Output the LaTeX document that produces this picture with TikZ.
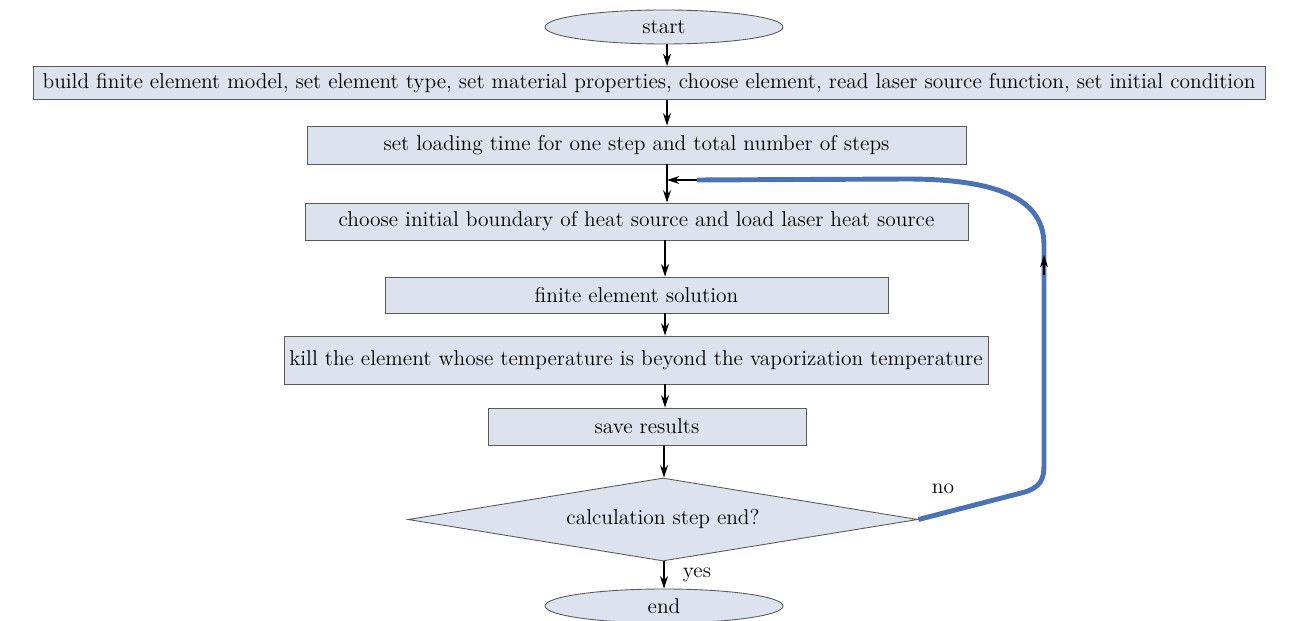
\documentclass[tikz,border=0pt]{standalone}
\usetikzlibrary{shapes.geometric,arrows.meta}
\definecolor{boxfill}{HTML}{DDE3EE}
\definecolor{boxdraw}{HTML}{5A5A5A}
\definecolor{loopblue}{HTML}{4A72B5}
\begin{document}
\begin{tikzpicture}[x=0.02cm,y=-0.02cm,
  every node/.style={font=\fontsize{12.2}{14}\selectfont},
  procbox/.style={draw=boxdraw,fill=boxfill,line width=0.5pt,rectangle,inner sep=0pt},
  termnode/.style={draw=boxdraw,fill=boxfill,line width=0.5pt,ellipse,inner sep=0pt,minimum width=238*0.02cm,minimum height=34*0.02cm},
  decnode/.style={draw=boxdraw,fill=boxfill,line width=0.5pt,diamond,aspect=6.1,inner sep=0pt,minimum width=510*0.02cm,minimum height=83*0.02cm},
  flow/.style={-{Stealth[length=7pt,width=4.5pt]},line width=0.7pt,black},
  plain/.style={font=\fontsize{12.2}{14}\selectfont}]
\useasboundingbox (0,0) rectangle (1290,621);
\node[termnode] (start) at (664,27) {start};
\node[procbox,minimum width=1232*0.02cm,minimum height=33*0.02cm] (b1) at (649,83) {build finite element model, set element type, set material properties, choose element, read laser source function, set initial condition};
\node[procbox,minimum width=659*0.02cm,minimum height=38*0.02cm] (b2) at (636.5,145) {set loading time for one step and total number of steps};
\node[procbox,minimum width=663*0.02cm,minimum height=37*0.02cm] (b3) at (636.5,221.5) {choose initial boundary of heat source and load laser heat source};
\node[procbox,minimum width=503*0.02cm,minimum height=36*0.02cm] (b4) at (636.5,295) {finite element solution};
\node[procbox,minimum width=704*0.02cm,minimum height=48*0.02cm] (b5) at (636,360) {kill the element whose temperature is beyond the vaporization temperature};
\node[procbox,minimum width=318*0.02cm,minimum height=37*0.02cm] (b6) at (647,426.5) {save results};
\node[decnode] (dec) at (663,519.5) {calculation step end?};
\node[termnode] (end) at (664,606) {end};
\node[plain] (no) at (943,489) {no};
\node[plain] (yes) at (697,575) {yes};
\coordinate (j) at (667,180);
\coordinate (lp1) at (697,180);
\coordinate (lp2) at (907,179);
\coordinate (lp3) at (1044,245);
\coordinate (lp4) at (1044,465);
\coordinate (lp5) at (1025,492);
\coordinate (tipA) at (1044,275);
\coordinate (tipB) at (1044,255);
\draw[flow] (start.south -| 667,0) -- (b1.north -| 667,0);
\draw[flow] (b1.south -| 667,0) -- (b2.north -| 667,0);
\draw[line width=0.7pt] (b2.south -| 667,0) -- (j);
\draw[flow] (j) -- (b3.north -| 667,0);
\draw[flow] (b3.south -| 665,0) -- (b4.north -| 665,0);
\draw[flow] (b4.south -| 665,0) -- (b5.north -| 665,0);
\draw[flow] (b5.south -| 665,0) -- (b6.north -| 665,0);
\draw[flow] (b6.south -| 664,0) -- (dec.north -| 664,0);
\draw[flow] (dec.south -| 664,0) -- (end.north -| 664,0);
\draw[loopblue,line width=2.8pt] (dec.east) -- (lp5) .. controls (1040,487) and (1044,480) .. (lp4) -- (lp3) .. controls (1044,205) and (1010,179) .. (lp2) -- (lp1);
\draw[flow] (lp1) -- (j);
\draw[flow,line width=0.6pt] (tipA) -- (tipB);
\end{tikzpicture}
\end{document}
